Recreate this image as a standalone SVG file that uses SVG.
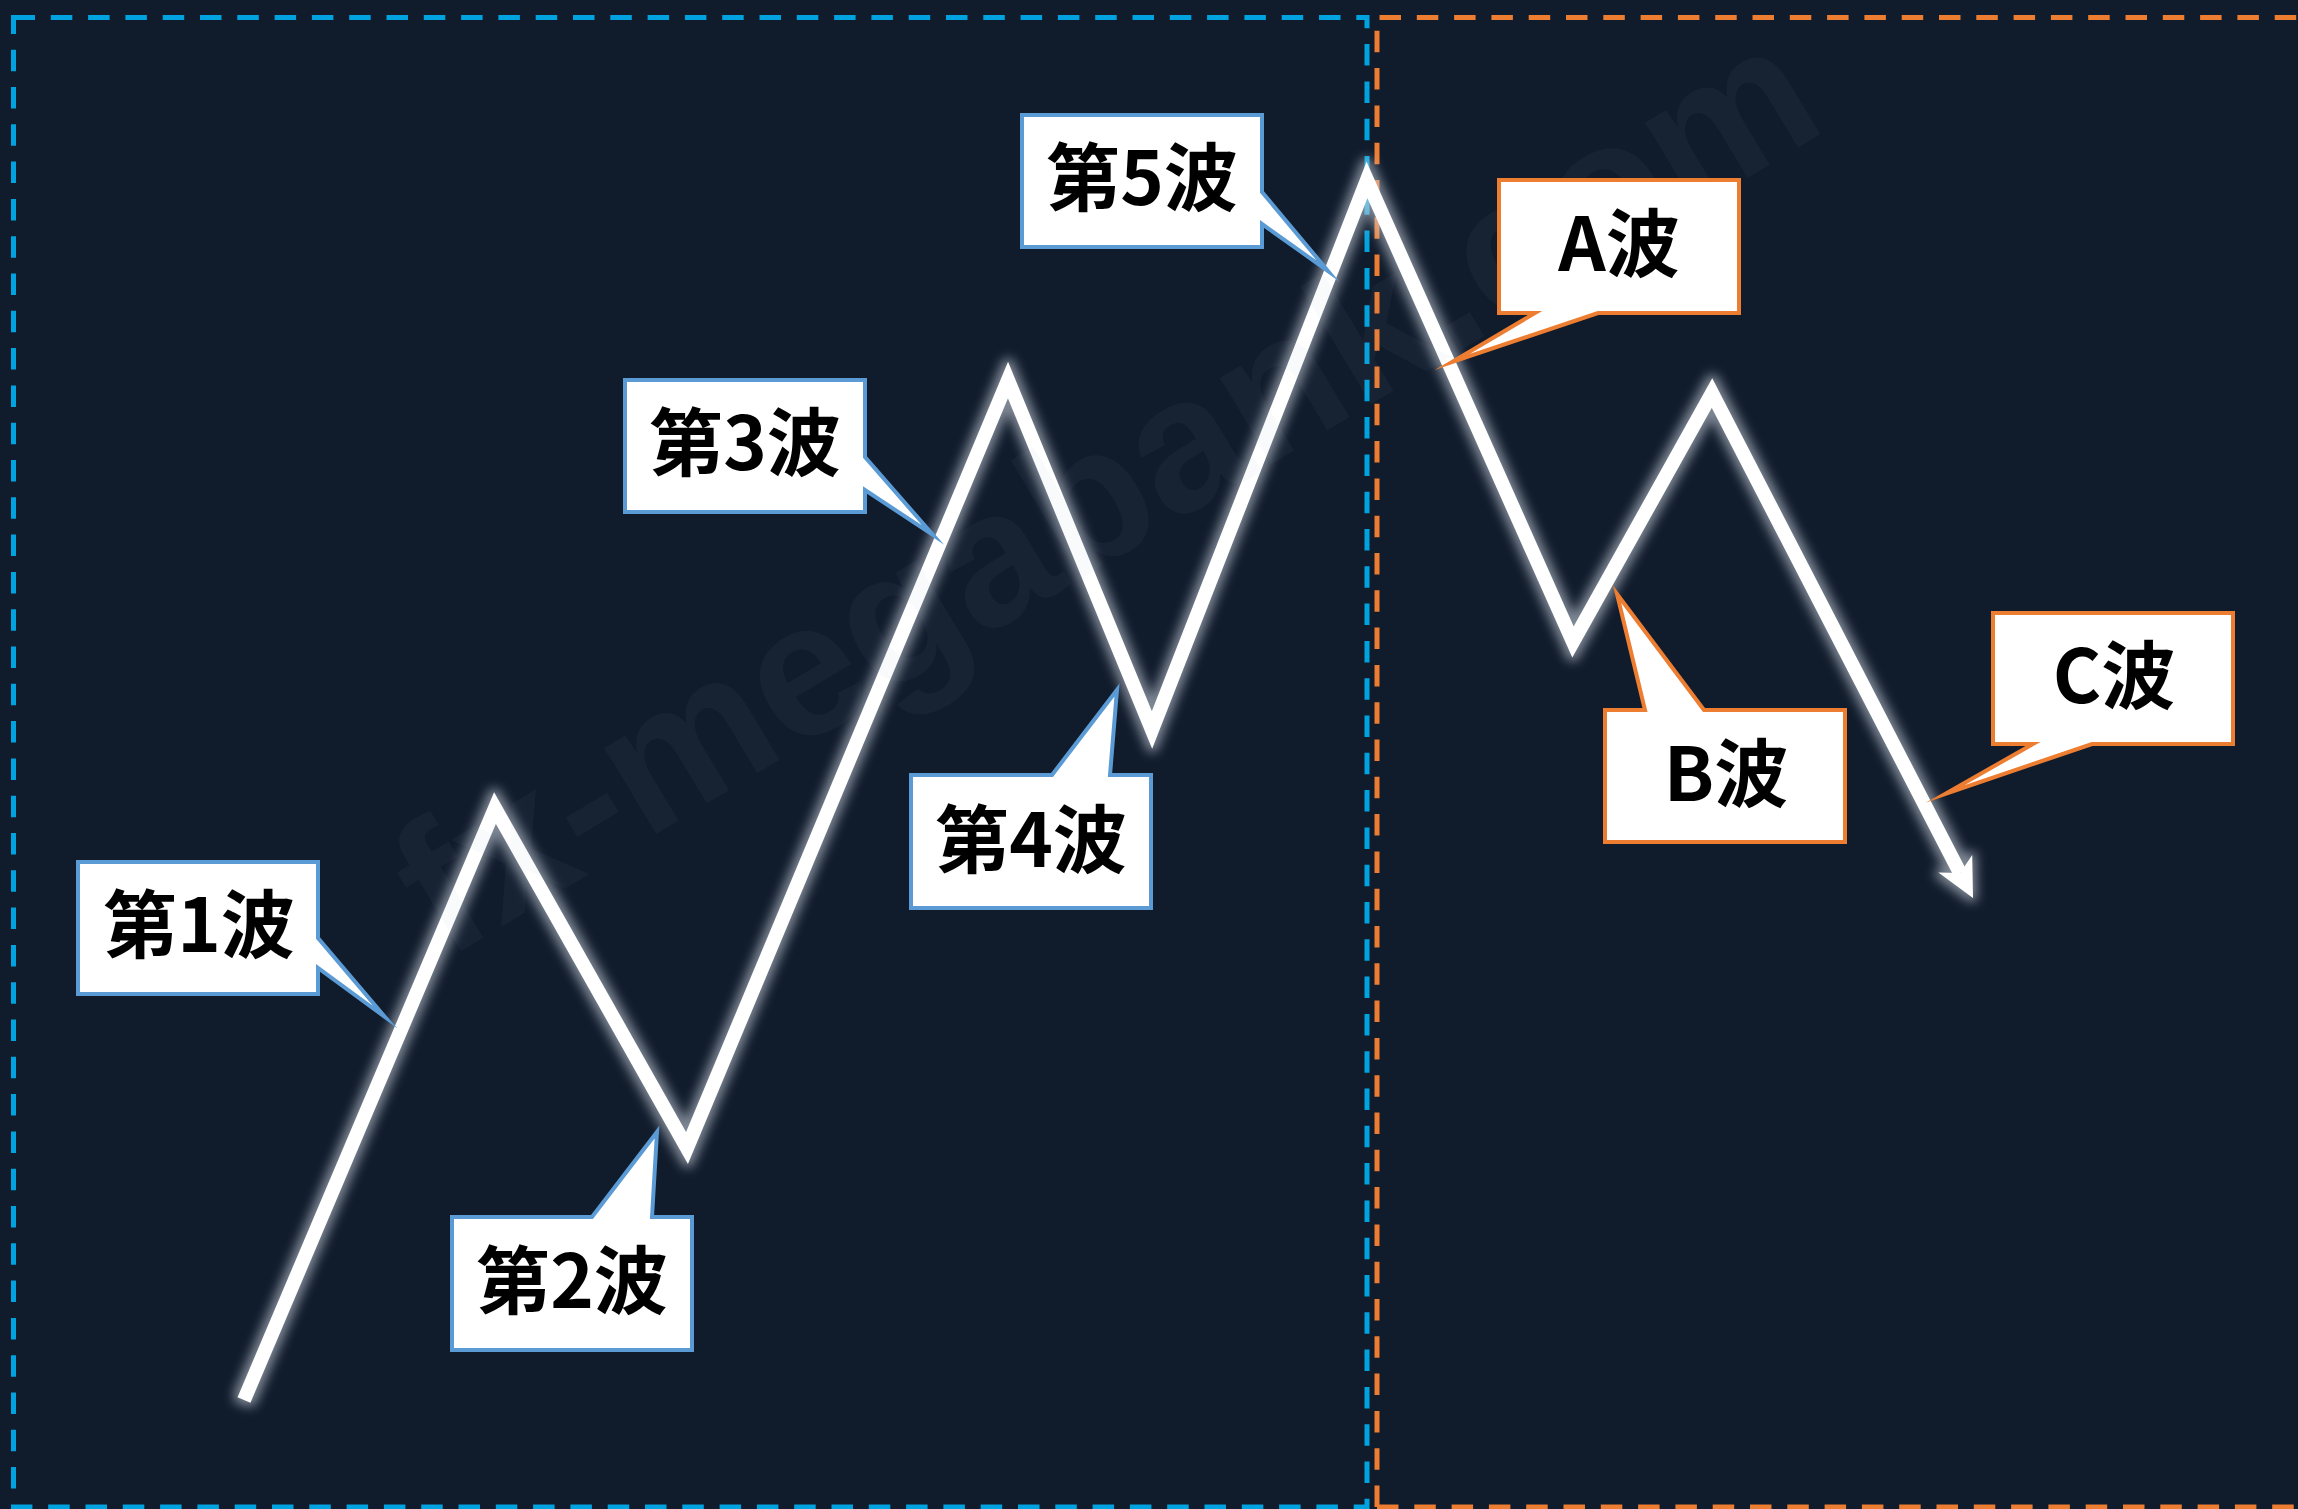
<svg xmlns="http://www.w3.org/2000/svg" width="2298" height="1509" viewBox="0 0 2298 1509">
<style>
.bg{fill:#101b2c}
.dash-blue{fill:none;stroke:#00a3e0;stroke-width:5;stroke-dasharray:21.5 15.8}
.dash-orange{fill:none;stroke:#ed7d31;stroke-width:5;stroke-dasharray:21.5 15.8}
.wave{fill:none;stroke:#ffffff;stroke-width:14;stroke-linejoin:miter;stroke-miterlimit:10;stroke-linecap:butt}
.call-blue{fill:#ffffff;stroke:#5b9bd5;stroke-width:4;stroke-linejoin:miter;stroke-miterlimit:20}
.call-orange{fill:#ffffff;stroke:#ed7d31;stroke-width:4;stroke-linejoin:miter;stroke-miterlimit:20}
.lbl{font-family:"Noto Sans CJK JP","Noto Sans CJK SC",sans-serif;font-weight:bold;font-size:74px;fill:#000000;text-anchor:middle}
.wm{font-family:"Liberation Sans","Noto Sans",sans-serif;font-weight:bold;font-size:190px;fill:#9aa4b0;fill-opacity:0.055;text-anchor:middle}
</style>
<defs>
<filter id="glow" filterUnits="userSpaceOnUse" x="0" y="0" width="2298" height="1509">
<feMorphology in="SourceAlpha" operator="dilate" radius="4" result="d"/>
<feGaussianBlur in="d" stdDeviation="5.5" result="b"/>
<feFlood flood-color="#c8d0da" flood-opacity="0.6"/>
<feComposite in2="b" operator="in" result="g"/>
<feMerge><feMergeNode in="g"/><feMergeNode in="SourceGraphic"/></feMerge>
</filter>
</defs>
<rect class="bg" x="0" y="0" width="2298" height="1509"/>
<g id="frames">
<rect class="dash-blue" x="13.5" y="17.5" width="1353.5" height="1489.5"/>
<path class="dash-orange" d="M1377,1507 V17.5 H2320"/>
<path class="dash-orange" d="M1377,1507 H2320"/>
</g>
<g id="connectors">
<g filter="url(#glow)">
<polyline class="wave" points="244,1400 495,808 687,1148 1008,380 1152,730 1367,180 1573,642 1712,393 1960,873"/>
<polygon fill="#ffffff" points="1973,898 1938.4,872.5 1960.1,873.1 1972.2,855.1"/>
</g>
</g>
<g id="watermark">
<text class="wm" transform="translate(1103,486) rotate(-31)" x="0" y="68">fx-megabank.com</text>
</g>
<g id="wave1">
<path class="call-blue" d="M78,862 H318 V938 L385,1017 L318,968 V994 H78 Z"/>
<text class="lbl" x="199" y="952">第1波</text>
</g>
<g id="wave2">
<path class="call-blue" d="M452,1217 H592 L657,1132 L652,1217 H692 V1350 H452 Z"/>
<text class="lbl" x="572" y="1308">第2波</text>
</g>
<g id="wave3">
<path class="call-blue" d="M625,380 H865 V457 L933,535 L865,490 V512 H625 Z"/>
<text class="lbl" x="745" y="470">第3波</text>
</g>
<g id="wave4">
<path class="call-blue" d="M911,775 H1052 L1117,690 L1110,775 H1151 V908 H911 Z"/>
<text class="lbl" x="1031" y="867">第4波</text>
</g>
<g id="wave5">
<path class="call-blue" d="M1022,115 H1262 V192 L1328,271 L1262,224 V247 H1022 Z"/>
<text class="lbl" x="1142" y="205">第5波</text>
</g>
<g id="waveA">
<path class="call-orange" d="M1499,180 H1739 V313 H1598 L1452,362 L1535,313 H1499 Z"/>
<text class="lbl" x="1619" y="271">A波</text>
</g>
<g id="waveB">
<path class="call-orange" d="M1605,710 H1645 L1617,594 L1704,710 H1845 V842 H1605 Z"/>
<text class="lbl" x="1726" y="801">B波</text>
</g>
<g id="waveC">
<path class="call-orange" d="M1993,613 H2233 V744 H2092 L1945,794 L2033,744 H1993 Z"/>
<text class="lbl" x="2114" y="703">C波</text>
</g>
</svg>
